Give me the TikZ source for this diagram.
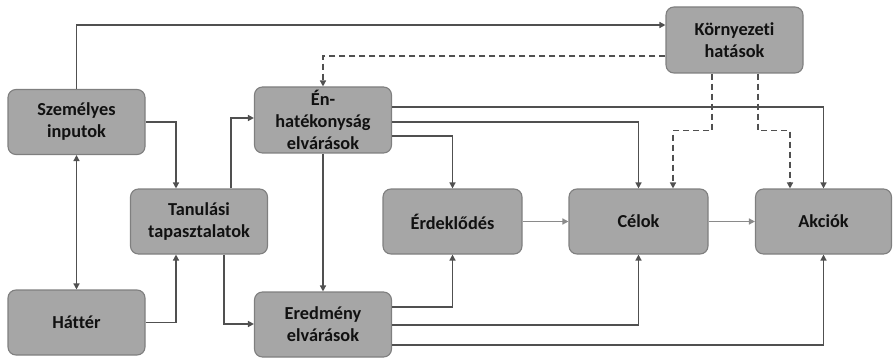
\documentclass[tikz,border=0pt]{standalone}
\usepackage{fontspec}
\setmainfont{Carlito}[Ligatures=NoCommon]
\usetikzlibrary{arrows.meta}
\definecolor{boxfill}{HTML}{A6A6A6}
\definecolor{boxedge}{HTML}{7F7F7F}
\definecolor{linkcol}{HTML}{505050}
\definecolor{flowcol}{HTML}{8A8A8A}
\definecolor{textcol}{HTML}{111111}
\begin{document}
\begin{tikzpicture}[x=1pt,y=-1pt,
  box/.style={draw=boxedge, fill=boxfill, rounded corners=8pt, line width=1.1pt,
    minimum width=137pt, minimum height=65pt, align=center, inner sep=0pt,
    text=textcol, font=\bfseries\fontsize{18.3}{22}\selectfont},
  link/.style={draw=linkcol, line width=1.4pt, -{Triangle[length=6pt,width=6pt]}},
  dlink/.style={link, dash pattern=on 6pt off 4pt},
  flow/.style={draw=flowcol, line width=1.4pt, -{Triangle[length=6pt,width=6pt]}}]
\useasboundingbox (0,0) rectangle (893,358);

% boxes
\node[box] (sz)  at (76.5,122)   {Személyes\\inputok};
\node[box] (hat) at (76.5,322.5) {Háttér};
\node[box] (tan) at (199,221.5)  {Tanulási\\tapasztalatok};
\node[box, minimum height=66pt] (en) at (323,120) {Én-\\hatékonyság\\elvárások};
\node[box] (ered) at (323,324.5) {Eredmény\\elvárások};
\node[box, minimum width=139pt] (erd) at (452.5,221.5) {Érdeklődés};
\node[box, minimum width=139pt] (cel) at (638.5,221.5) {Célok};
\node[box, minimum width=136pt] (akc) at (823.5,221.5) {Akciók};
\node[box, minimum height=66pt] (kor) at (734.5,40) {Környezeti\\hatások};

% personal inputs and background
\draw[link] (sz.north) |- (kor.west |- 0,25);
\draw[link] (sz.east) -| ([xshift=-23pt]tan.north);
\draw[link, {Triangle[length=6pt,width=6pt]}-{Triangle[length=6pt,width=6pt]}] (sz.south) -- (hat.north);
\draw[link] (hat.east) -| ([xshift=-23pt]tan.south);

% learning experiences
\draw[link] ([xshift=32pt]tan.north) |- (en.west |- 0,118);
\draw[link] ([xshift=25pt]tan.south) |- (ered.west |- 0,324);

% self-efficacy
\draw[link] (en.south) -- (ered.north);
\draw[link] (en.east |- 0,107) -| (akc.north);
\draw[link] (en.east |- 0,122) -| (cel.north);
\draw[link] (en.east |- 0,136) -| (erd.north);

% outcome expectations
\draw[link] (ered.east |- 0,307) -| (erd.south);
\draw[link] (ered.east |- 0,325) -| (cel.south);
\draw[link] (ered.east |- 0,345) -| (akc.south);

% environmental influences
\draw[dlink] (kor.west |- 0,56) -| (en.north);
\draw[dlink] ([xshift=-22.5pt]kor.south) -- ++(0,57) -| ([xshift=34.5pt]cel.north);
\draw[dlink] ([xshift=23.5pt]kor.south) -- ++(0,57) -| ([xshift=-33.5pt]akc.north);

% main chain
\draw[flow] (erd.east) -- (cel.west);
\draw[flow] (cel.east) -- (akc.west);
\end{tikzpicture}
\end{document}
